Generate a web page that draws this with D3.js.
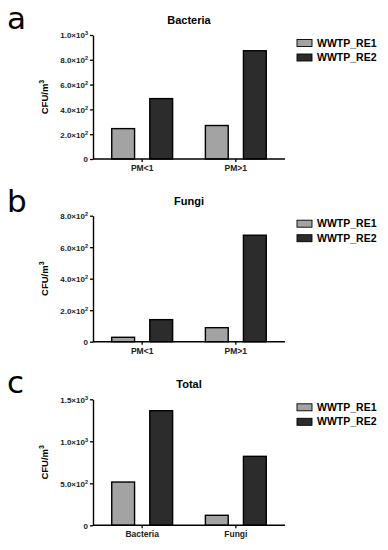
<!DOCTYPE html>
<html>
<head>
<meta charset="utf-8">
<script src="https://cdn.jsdelivr.net/npm/d3@7"></script>
<style>
  body { margin: 0; background: #fff; }
  svg { display: block; }
</style>
</head>
<body>
<svg id="chart" width="388" height="550"></svg>
<script>
const series = ['WWTP_RE1', 'WWTP_RE2'];
const colors = ['#a3a3a3', '#2c2c2c'];

const bactCats = ['PM<1', 'PM>1'];
const bactRE1 = [245, 270];
const bactRE2 = [487, 873];
const bactTicks = [0, 200, 400, 600, 800, 1000];

const fungCats = ['PM<1', 'PM>1'];
const fungRE1 = [28, 89];
const fungRE2 = [140, 676];
const fungTicks = [0, 200, 400, 600, 800];

const totCats = ['Bacteria', 'Fungi'];
const totRE1 = [515, 119];
const totRE2 = [1364, 821];
const totTicks = [0, 500, 1000, 1500];

const svg = d3.select('#chart');
const font = 'Liberation Sans, Arial, sans-serif';

function drawPanel(letter, title, cats, re1, re2, ticks, top, bottom, letterY) {
  const left = 93, right = 285;
  const g = svg.append('g');

  const y = d3.scaleLinear()
      .domain([0, d3.max(ticks)])
      .range([bottom, top]);

  const x0 = d3.scaleBand()
      .domain(cats)
      .range([left, right])
      .paddingInner(0.35)
      .paddingOuter(0.2);

  const x1 = d3.scaleBand()
      .domain(series)
      .range([0, x0.bandwidth()])
      .paddingInner(0.4)
      .paddingOuter(0);

  const rows = cats.map((c, i) => ({ cat: c, vals: [re1[i], re2[i]] }));

  // bars
  g.selectAll('.grp')
    .data(rows)
    .enter()
    .append('g')
    .attr('transform', d => `translate(${x0(d.cat)},0)`)
    .selectAll('rect')
    .data(d => d.vals.map((v, j) => ({ s: series[j], v, j })))
    .enter()
    .append('rect')
    .attr('x', d => x1(d.s))
    .attr('y', d => y(d.v))
    .attr('width', x1.bandwidth())
    .attr('height', d => y(0) - y(d.v))
    .attr('fill', d => colors[d.j])
    .attr('stroke', '#000')
    .attr('stroke-width', 1.4);

  // y axis
  const ya = g.append('g')
    .attr('transform', `translate(${left},0)`)
    .call(d3.axisLeft(y).tickValues(ticks).tickSize(3).tickSizeOuter(0).tickFormat(''));
  ya.select('.domain').attr('stroke-width', 1.4);
  ya.selectAll('.tick line').attr('stroke-width', 1.3);
  ya.selectAll('.tick').each(function (d) {
    const t = d3.select(this).append('text')
      .attr('x', -5)
      .attr('dy', '0.35em')
      .attr('text-anchor', 'end')
      .attr('fill', '#222')
      .style('font-family', font)
      .style('font-weight', 'bold')
      .style('font-size', '8px');
    if (d === 0) { t.text('0'); return; }
    const e = Math.floor(Math.log10(d));
    const m = (d / Math.pow(10, e)).toFixed(1);
    t.append('tspan').text(m + '×10');
    t.append('tspan')
      .attr('dy', '-3')
      .style('font-size', '5.5px')
      .text(e);
  });

  // x axis
  const xa = g.append('g')
    .attr('transform', `translate(0,${bottom})`)
    .call(d3.axisBottom(x0).tickSize(3).tickSizeOuter(0));
  xa.select('.domain').attr('stroke-width', 1.4).attr('d', `M${left},0H${right}`);
  xa.selectAll('.tick line').attr('stroke-width', 1.3);
  xa.selectAll('.tick text')
    .attr('y', 6)
    .attr('fill', '#222')
    .style('font-family', font)
    .style('font-weight', 'bold')
    .style('font-size', '8.5px');

  // y label
  const yl = g.append('text')
    .attr('transform', `translate(48,${(top + bottom) / 2}) rotate(-90)`)
    .attr('text-anchor', 'middle')
    .style('font-family', font)
    .style('font-weight', 'bold')
    .style('font-size', '9.5px');
  yl.append('tspan').text('CFU/m');
  yl.append('tspan').attr('dy', '-4').style('font-size', '7px').text('3');

  // title
  g.append('text')
    .attr('x', (left + right) / 2)
    .attr('y', top - 11)
    .attr('text-anchor', 'middle')
    .style('font-family', font)
    .style('font-weight', 'bold')
    .style('font-size', '11px')
    .text(title);

  // panel letter
  g.append('text')
    .attr('x', 7)
    .attr('y', letterY)
    .style('font-family', 'DejaVu Sans, sans-serif')
    .style('font-size', '31px')
    .text(letter);

  // legend
  const lg = g.append('g').attr('transform', `translate(297,${top + 8})`);
  series.forEach((s, i) => {
    lg.append('rect')
      .attr('x', 0)
      .attr('y', i * 14.5 - 3.5)
      .attr('width', 15)
      .attr('height', 7)
      .attr('fill', colors[i])
      .attr('stroke', '#000')
      .attr('stroke-width', 0.9);
    lg.append('text')
      .attr('x', 20)
      .attr('y', i * 14.5)
      .attr('dy', '0.35em')
      .style('font-family', font)
      .style('font-weight', 'bold')
      .style('font-size', '10.5px')
      .text(s);
  });
}

drawPanel('a', 'Bacteria', bactCats, bactRE1, bactRE2, bactTicks, 35, 159, 29);
drawPanel('b', 'Fungi', fungCats, fungRE1, fungRE2, fungTicks, 215.7, 341.7, 212);
drawPanel('c', 'Total', totCats, totRE1, totRE2, totTicks, 399.3, 525.3, 393);
</script>
</body>
</html>
